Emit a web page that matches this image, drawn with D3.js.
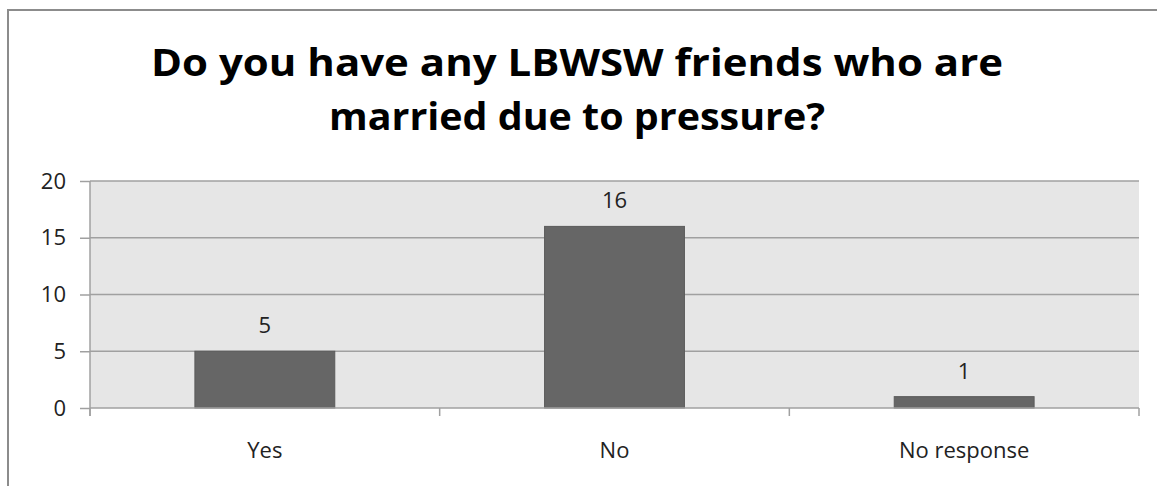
<!DOCTYPE html>
<html><head><meta charset="utf-8">
<script src="https://cdn.jsdelivr.net/npm/d3@7"></script>
<style>html,body{margin:0;padding:0;background:#fff;overflow:hidden}</style>
</head><body>
<svg id="c" width="1157" height="486"></svg>
<script>
const titleLines = ["Do you have any LBWSW friends who are", "married due to pressure?"];
const categories = ["Yes", "No", "No response"];
const values = [5, 16, 1];
const yTicks = [0, 5, 10, 15, 20];

const svg = d3.select("#c");
const font = "'Open Sans', sans-serif";
const m = {left: 90, right: 1139, top: 181, bottom: 408};

// chart border
svg.append("rect").attr("x", 8).attr("y", 10).attr("width", 1170).attr("height", 500)
  .attr("fill", "#fff").attr("stroke", "#8c8c8c").attr("stroke-width", 2);

// title
const titleWidths = [852, 496];
svg.append("g").selectAll("text").data(titleLines).join("text")
  .attr("x", 577).attr("y", (d, i) => 76 + i * 54)
  .attr("text-anchor", "middle").attr("font-family", font).attr("font-weight", "bold")
  .attr("font-size", 37).attr("fill", "#000")
  .attr("textLength", (d, i) => titleWidths[i]).attr("lengthAdjust", "spacingAndGlyphs")
  .text(d => d);

const x = d3.scaleBand().domain(categories).range([m.left, m.right]).paddingInner(0.6).paddingOuter(0.3);
const xb = d3.scaleBand().domain(categories).range([m.left, m.right]);
const y = d3.scaleLinear().domain([0, 20]).range([m.bottom, m.top]);

// plot area
svg.append("rect").attr("x", m.left).attr("y", m.top).attr("width", m.right - m.left)
  .attr("height", m.bottom - m.top).attr("fill", "#e6e6e6");

// gridlines
svg.append("g").selectAll("line").data(yTicks.filter(t => t > 0)).join("line")
  .attr("x1", m.left).attr("x2", m.right).attr("y1", d => y(d)).attr("y2", d => y(d))
  .attr("stroke", "#a0a0a0").attr("stroke-width", 1.5);

// bars
svg.append("g").selectAll("rect").data(values).join("rect")
  .attr("x", (d, i) => x(categories[i])).attr("width", x.bandwidth())
  .attr("y", d => y(d)).attr("height", d => y(0) - y(d))
  .attr("fill", "#666666").attr("stroke", "#5a5a5a").attr("stroke-width", 1);

// y axis
const yAxis = svg.append("g").attr("transform", `translate(${m.left},0)`)
  .call(d3.axisLeft(y).tickValues(yTicks).tickSize(10).tickPadding(14));
yAxis.select(".domain").attr("stroke", "#a0a0a0").attr("stroke-width", 1.5)
  .attr("d", `M0,${m.top}V${m.bottom + 8}`);
yAxis.selectAll(".tick line").attr("stroke", "#a0a0a0").attr("stroke-width", 1.5);
yAxis.selectAll(".tick text").attr("font-family", font).attr("font-size", 22).attr("fill", "#222");

// x axis
const xAxis = svg.append("g").attr("transform", `translate(0,${m.bottom})`)
  .call(d3.axisBottom(xb).tickSize(0).tickPadding(34));
xAxis.select(".domain").attr("stroke", "#a0a0a0").attr("stroke-width", 1.5).attr("d", `M${m.left},0H${m.right}`);
xAxis.selectAll(".tick text").attr("font-family", font).attr("font-size", 22).attr("fill", "#222");
const bounds = categories.map(c => xb(c)).concat([m.right]);
xAxis.append("g").selectAll("line").data(bounds).join("line")
  .attr("x1", d => d).attr("x2", d => d).attr("y1", 0).attr("y2", 8)
  .attr("stroke", "#a0a0a0").attr("stroke-width", 1.5);

// data labels
svg.append("g").selectAll("text").data(values).join("text")
  .attr("x", (d, i) => x(categories[i]) + x.bandwidth() / 2).attr("y", d => y(d) - 18)
  .attr("text-anchor", "middle").attr("font-family", font).attr("font-size", 22).attr("fill", "#222")
  .text(d => d);
</script>
</body></html>
